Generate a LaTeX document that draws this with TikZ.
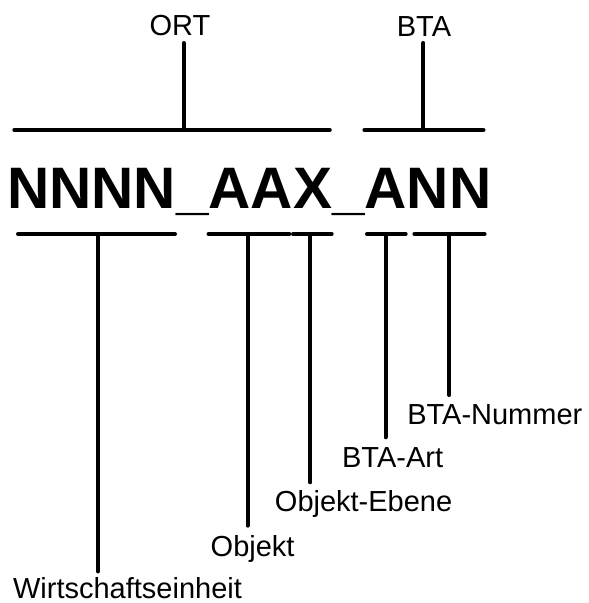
\documentclass[tikz,border=0pt]{standalone}
\usepackage{fontspec}
\setmainfont{Liberation Sans}
\begin{document}
\begin{tikzpicture}[x=1pt,y=-1pt,
  bar/.style={line width=4pt,line cap=round},
  lbl/.style={inner sep=0pt,anchor=base,font=\fontsize{29}{29}\selectfont},
  code/.style={inner sep=0pt,anchor=base west,font=\fontsize{58.5}{58.5}\selectfont\bfseries}]
\useasboundingbox (0,0) rectangle (589,603);
% labels
\node[lbl] (ort) at (180,35) {ORT};
\node[lbl] (bta) at (424,36.5) {BTA};
\node[code] (codetext) at (7,208) {NNNN\_AAX\_ANN};
\node[lbl] (we) at (127.5,598.3) {Wirtschaftseinheit};
\node[lbl] (obj) at (252.6,556) {Objekt};
\node[lbl] (ebene) at (363.6,511) {Objekt-Ebene};
\node[lbl] (art) at (392.6,467.3) {BTA-Art};
\node[lbl] (num) at (494.8,424) {BTA-Nummer};
% top braces
\coordinate (ortL) at (14.3,130); \coordinate (ortR) at (329.8,130);
\coordinate (ortM) at (183.7,130); \coordinate (ortT) at (183.7,43);
\coordinate (btaL) at (364.4,130); \coordinate (btaR) at (483.5,130);
\coordinate (btaM) at (423.4,130); \coordinate (btaT) at (423.4,43);
\draw[bar] (ortL) -- (ortR);
\draw[bar] (ortM) -- (ortT);
\draw[bar] (btaL) -- (btaR);
\draw[bar] (btaM) -- (btaT);
% bottom braces
\coordinate (aL) at (18,234); \coordinate (aR) at (175,234);
\coordinate (aM) at (98,234); \coordinate (aB) at (98,571.5);
\coordinate (bL) at (208.5,234); \coordinate (bR) at (289.3,234);
\coordinate (bM) at (247.6,234); \coordinate (bB) at (247.6,525.7);
\coordinate (cL) at (293,234); \coordinate (cR) at (331.7,234);
\coordinate (cM) at (310.3,234); \coordinate (cB) at (310.3,482.3);
\coordinate (dL) at (367,234); \coordinate (dR) at (405.7,234);
\coordinate (dM) at (385.5,234); \coordinate (dB) at (385.5,437.3);
\coordinate (eL) at (414.4,234); \coordinate (eR) at (484.6,234);
\coordinate (eM) at (449.2,234); \coordinate (eB) at (449.2,395);
\foreach \p in {a,b,c,d,e}{
  \draw[bar] (\p L) -- (\p R);
  \draw[bar] (\p M) -- (\p B);
}
\end{tikzpicture}
\end{document}
